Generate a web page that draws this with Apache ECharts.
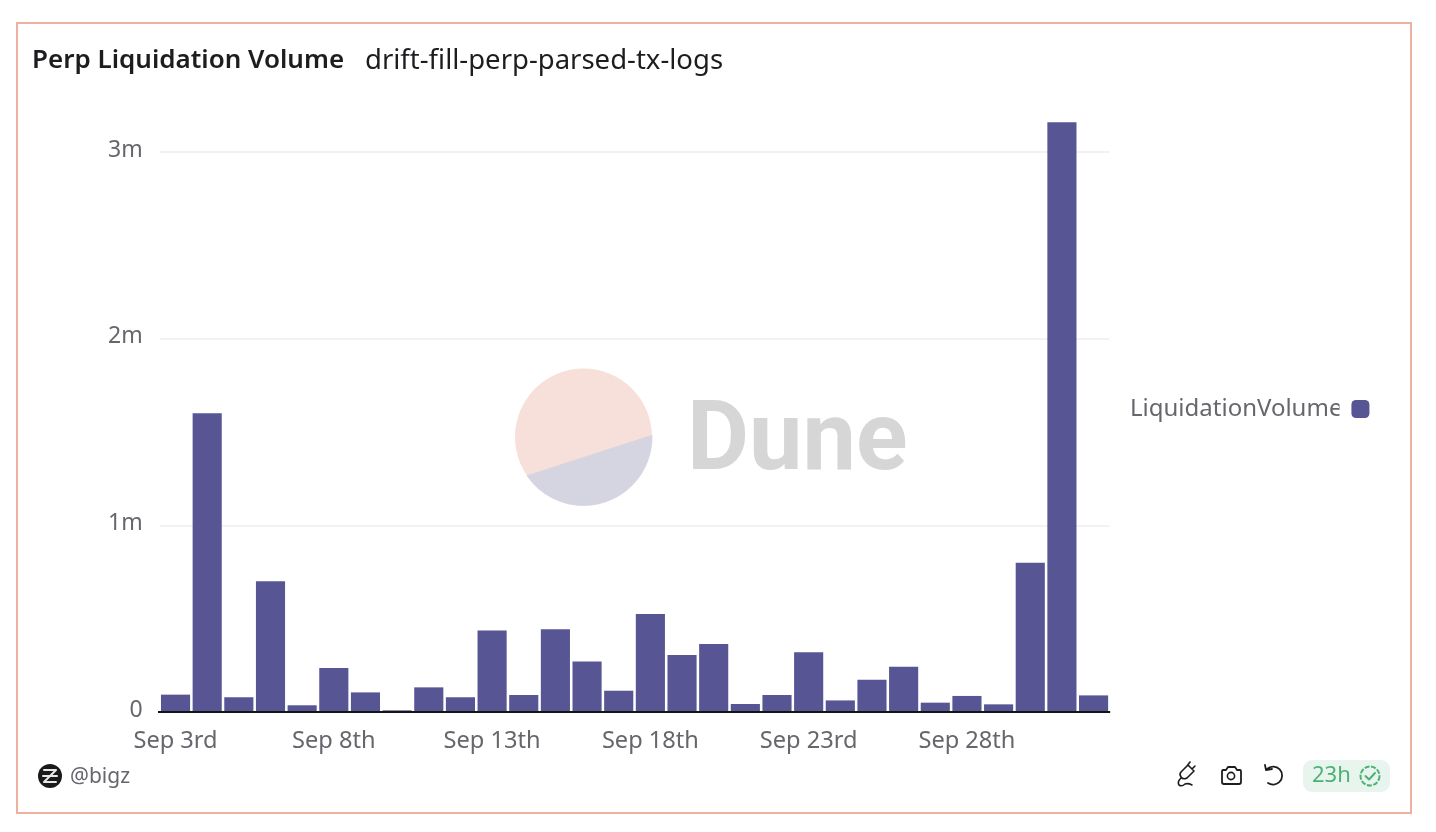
<!DOCTYPE html>
<html>
<head>
<meta charset="utf-8">
<title>Perp Liquidation Volume</title>
<script src="https://cdn.jsdelivr.net/npm/echarts@6/dist/echarts.min.js"></script>
<style>
html, body { margin: 0; padding: 0; background: #fff; }
#chart { width: 1436px; height: 832px; }
</style>
</head>
<body>
<div id="chart"></div>
<script>
var days = ['Sep 3rd', 'Sep 4th', 'Sep 5th', 'Sep 6th', 'Sep 7th', 'Sep 8th', 'Sep 9th', 'Sep 10th', 'Sep 11th', 'Sep 12th',
    'Sep 13th', 'Sep 14th', 'Sep 15th', 'Sep 16th', 'Sep 17th', 'Sep 18th', 'Sep 19th', 'Sep 20th', 'Sep 21st', 'Sep 22nd',
    'Sep 23rd', 'Sep 24th', 'Sep 25th', 'Sep 26th', 'Sep 27th', 'Sep 28th', 'Sep 29th', 'Sep 30th', 'Oct 1st', 'Oct 2nd'];
var liquidationVolume = [93000, 1600000, 79000, 700000, 36000, 236000, 105000, 9000, 132000, 79000,
    437000, 91000, 443000, 271000, 114000, 525000, 305000, 364000, 43000, 91000,
    320000, 62000, 173000, 243000, 50000, 86000, 41000, 800000, 3160000, 89000];

var font = '"Noto Sans", sans-serif';
var ink = '#1d1d20';
var grey = '#66666c';
var purple = '#575594';

// graphic has no plain svg path type, so register one per path
var pathCount = 0;
function pathShape(d, style, z) {
    var name = 'decoPath' + (pathCount++);
    echarts.graphic.registerShape(name, echarts.graphic.extendPath(d, {}));
    return {type: name, style: style, z: z};
}

function iconLine(d, color, width) {
    return pathShape(d, {fill: null, stroke: color, lineWidth: width, lineCap: 'round', lineJoin: 'round'}, 5);
}

var decorations = [
    // card border
    {type: 'rect', shape: {x: 17, y: 23, width: 1394, height: 790}, style: {fill: null, stroke: '#eeb0a0', lineWidth: 2}, z: 0},

    // dune watermark
    {type: 'circle', shape: {cx: 583.5, cy: 437, r: 68.5}, style: {fill: '#f8e0da'}, z: 0},
    pathShape('M652 435.2 A68.5 68.5 0 0 1 527 475.7 Z', {fill: '#d5d5e2', stroke: '#d5d5e2', lineWidth: 0.8}, 0),
    {type: 'text', x: 687, y: 445, style: {text: 'Dune', font: 'bold 95.5px "Roboto", sans-serif', fill: '#d6d6d6', verticalAlign: 'middle'}, z: 0},

    // base line runs a little past the first and last bar slots
    {type: 'line', shape: {x1: 158, y1: 712, x2: 1110, y2: 712}, style: {stroke: '#141414', lineWidth: 2}, z: 3},

    // cuts the legend text off like the source does
    {type: 'rect', shape: {x: 1339.5, y: 392, width: 11, height: 32}, style: {fill: '#fff'}, z: 10},

    // footer left
    {type: 'circle', shape: {cx: 50, cy: 776, r: 12}, style: {fill: '#1a1a1a'}, z: 5},
    iconLine('M44 770 L56 770 L44 782 L56 782 M43 776 L57 776', '#e8e8e8', 2),
    {type: 'text', x: 70, y: 777, style: {text: '@bigz', font: '21px ' + font, fill: grey, verticalAlign: 'middle'}, z: 5},

    // footer right icons
    iconLine('M1181 772 L1188 765 L1194 771 L1187 778 Q1183 780 1181 777 Q1179 774 1181 772 M1187 766 L1190 762 M1192 769 L1195 766 M1181 778 Q1177 782 1179 785 Q1182 787 1185 784 Q1188 783 1192 785', ink, 1.6),
    iconLine('M1223 770 L1226 770 L1228 767 L1235 767 L1237 770 L1240 770 Q1241 770 1241 772 L1241 782 Q1241 784 1239 784 L1224 784 Q1222 784 1222 782 L1222 772 Q1222 770 1223 770 Z', ink, 1.8),
    {type: 'circle', shape: {cx: 1231, cy: 776, r: 3.6}, style: {fill: null, stroke: ink, lineWidth: 1.6}, z: 5},
    iconLine('M1267 769 A9 9 0 1 1 1268 783 M1266 770 L1265 765 M1266 770 L1272 769', ink, 1.8),

    // freshness badge
    {type: 'rect', shape: {x: 1303, y: 760, width: 87, height: 32, r: 9}, style: {fill: '#e8f5ee'}, z: 4},
    {type: 'text', x: 1312, y: 776, style: {text: '23h', font: '22px ' + font, fill: '#4cb273', verticalAlign: 'middle'}, z: 5},
    {type: 'circle', shape: {cx: 1370, cy: 776, r: 9.5}, style: {fill: null, stroke: '#4cb273', lineWidth: 2, lineDash: [5, 1.5]}, z: 5},
    iconLine('M1365.5 776 L1369 779.5 L1375 773', '#4cb273', 2)
];

var option = {
    animation: false,
    backgroundColor: '#fff',
    title: [
        {text: 'Perp Liquidation Volume', left: 32, top: 48, padding: 0, textStyle: {fontFamily: font, fontSize: 26, fontWeight: 600, color: ink}},
        {text: 'drift-fill-perp-parsed-tx-logs', left: 365, top: 47, padding: 0, textStyle: {fontFamily: font, fontSize: 27.5, fontWeight: 400, color: ink}}
    ],
    legend: {
        orient: 'vertical',
        left: 1125,
        top: 392,
        align: 'right',
        icon: 'roundRect',
        itemWidth: 18,
        itemHeight: 18,
        itemGap: 10,
        data: ['LiquidationVolume'],
        textStyle: {fontFamily: font, fontSize: 24, color: grey, padding: [0, 4, 0, 0]}
    },
    grid: {left: 159.7, top: 114.67, width: 949.7, height: 597.33},
    xAxis: {
        type: 'category',
        data: days,
        axisTick: {show: false},
        axisLine: {lineStyle: {color: '#141414', width: 2}},
        axisLabel: {interval: 4, margin: 17, fontFamily: font, fontSize: 23.6, color: grey}
    },
    yAxis: {
        type: 'value',
        min: 0,
        max: 3200000,
        interval: 1000000,
        axisLine: {show: false},
        axisTick: {show: false},
        axisLabel: {
            showMaxLabel: false,
            margin: 17,
            verticalAlign: 'bottom',
            lineHeight: 4,
            fontFamily: font,
            fontSize: 23,
            color: grey,
            formatter: function (v) { return v === 0 ? '0' : (v / 1000000) + 'm'; }
        },
        splitLine: {showMaxLine: false, lineStyle: {color: '#f2f2f3', width: 2}}
    },
    series: [
        {
            name: 'LiquidationVolume',
            type: 'bar',
            data: liquidationVolume,
            barCategoryGap: '8%',
            itemStyle: {color: purple}
        }
    ],
    graphic: decorations
};

var myChart = echarts.init(document.getElementById('chart'));
myChart.setOption(option);
</script>
</body>
</html>
